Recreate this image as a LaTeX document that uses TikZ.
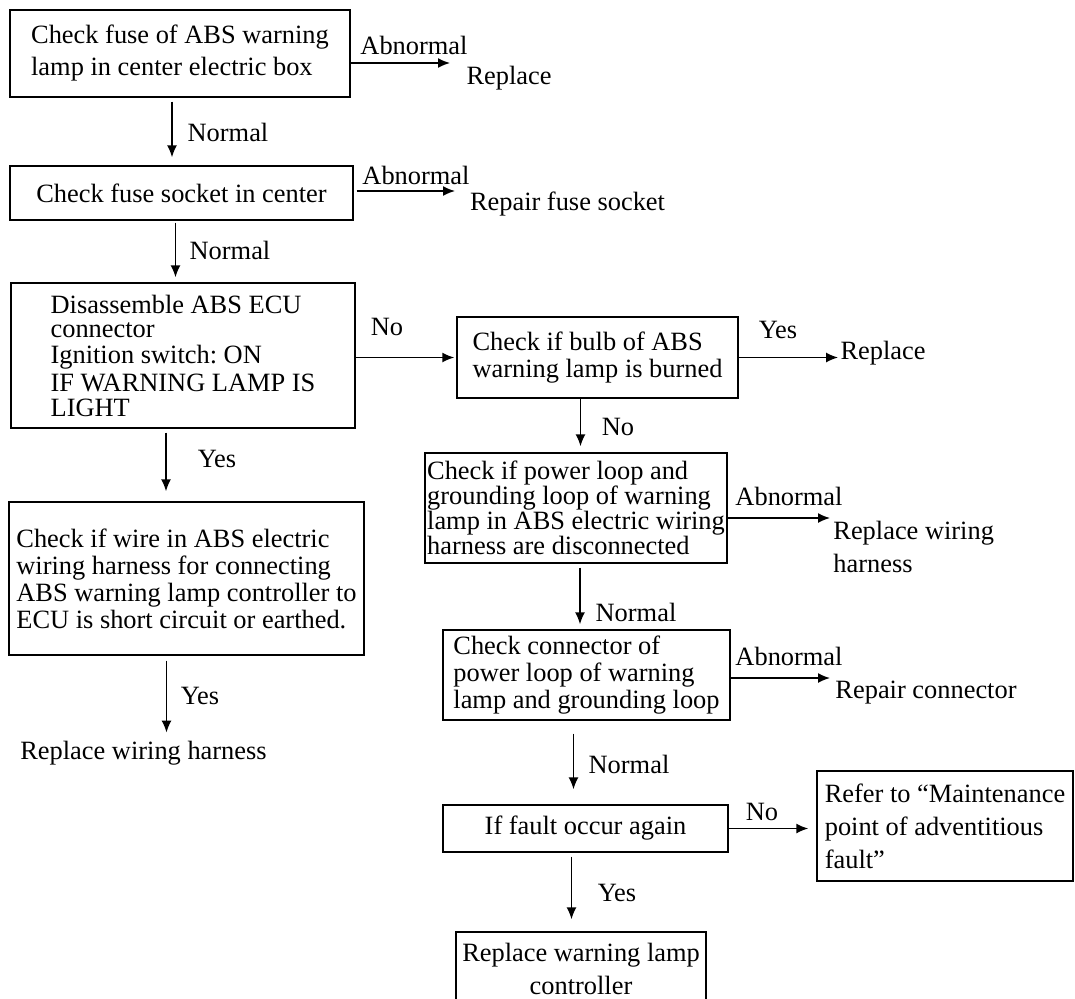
\documentclass[tikz,border=0pt]{standalone}
\usepackage{fontspec}
\setmainfont{Liberation Serif}
\usetikzlibrary{arrows.meta, positioning}

\begin{document}
\begin{tikzpicture}[
    x=0.5pt, y=-0.5pt,
    % Node styles
    check box/.style={
        draw, rectangle, line width=0.7pt, align=left,
        inner sep=1pt, font=\fontsize{13.2}{13.5}\selectfont,
      },
    answer/.style={
        inner sep=0pt, align=left,
        font=\fontsize{13.2}{16.5}\selectfont,
      },
    % Edge/arrow style
    flow/.style={
        draw, line width=0.8pt, -{Latex[length=6pt, width=5pt]},
      },
  ]
  \useasboundingbox (0,0) rectangle (1075,998);

  % --- Main chain on the left ---
  \node[check box, minimum width=170pt, minimum height=43.5pt] (fuse) at (180,53.5)
    {Check fuse of ABS warning\\[2.5pt]lamp in center electric box};
  \node[check box, minimum width=171.5pt, minimum height=27pt] (socket) at (181.5,193)
    {Check fuse socket in center};
  \node[check box, minimum width=172pt, minimum height=72.5pt] (ecu) at (183,355.5)
    {Disassemble ABS ECU\\[-1.5pt]connector\\[-0.5pt]Ignition switch:~ON\\[0.5pt]IF WARNING LAMP IS\\[-1pt]LIGHT};
  \node[check box, minimum width=177.5pt, minimum height=76.5pt] (wire) at (186.5,578.5)
    {Check if wire in ABS electric\\wiring harness for connecting\\ABS warning lamp controller to\\ECU is short circuit or earthed.};

  % --- Chain on the right ---
  \node[check box, minimum width=140.5pt, minimum height=40.5pt] (bulb) at (597.5,357.5)
    {Check if bulb of ABS\\warning lamp is burned};
  \node[check box, minimum width=151pt, minimum height=55pt] (loop) at (576,508)
    {Check if power loop and\\[-1pt]grounding loop of warning\\[-1pt]lamp in ABS electric wiring\\[-1pt]harness are disconnected};
  \node[check box, minimum width=143.5pt, minimum height=45pt] (conn) at (586.5,675)
    {Check connector of\\power loop of warning\\lamp and grounding loop};
  \node[check box, minimum width=142.5pt, minimum height=23.5pt] (again) at (585.5,828.5)
    {If fault occur again};
  \node[check box, minimum width=128pt, minimum height=55pt,
        font=\fontsize{13.2}{16.5}\selectfont] (refer) at (945,826)
    {Refer to “Maintenance\\point of adventitious\\fault”};
  \node[check box, align=center, minimum width=125pt, minimum height=37pt,
        font=\fontsize{13.2}{16.5}\selectfont] (lampctl) at (581,969)
    {Replace warning lamp\\controller};

  % --- Results and branch labels ---
  \node[answer] (abnFuse) at (414,45) {Abnormal};
  \node[answer] (repFuse) at (509,78) {Replace};
  \node[answer] (nrmFuse) at (228,132) {Normal};
  \node[answer] (abnSocket) at (416,175) {Abnormal};
  \node[answer] (repSocket) at (567.5,204) {Repair fuse socket};
  \node[answer] (nrmSocket) at (230,250) {Normal};
  \node[answer] (noEcu) at (387,327) {No};
  \node[answer] (yesEcu) at (217,459) {Yes};
  \node[answer] (yesWire) at (200,696) {Yes};
  \node[answer] (repWire) at (143.5,753) {Replace wiring harness};
  \node[answer] (yesBulb) at (778,330) {Yes};
  \node[answer] (repBulb) at (883,353) {Replace};
  \node[answer] (noBulb) at (618,427) {No};
  \node[answer] (abnLoop) at (789,496) {Abnormal};
  \node[answer, anchor=west] (repLoop) at (833,547) {Replace wiring\\harness};
  \node[answer] (nrmLoop) at (636,612) {Normal};
  \node[answer] (abnConn) at (789,656) {Abnormal};
  \node[answer] (repConn) at (926,693) {Repair connector};
  \node[answer] (nrmConn) at (629,764) {Normal};
  \node[answer] (noAgain) at (762,812) {No};
  \node[answer] (yesAgain) at (617,893) {Yes};

  % free arrow ends
  \coordinate (fuseEnd) at (450,63);
  \coordinate (socketEnd) at (455,191);
  \coordinate (loopEnd) at (830,518);
  \coordinate (connEnd) at (830,678);

  % --- Connectors ---
  \draw[flow, shorten <=2pt, shorten >=4pt] ([xshift=-4pt]fuse.south) -- ([xshift=-4pt]fuse.south |- socket.north);
  \draw[flow, shorten <=1pt, shorten >=2.5pt] ([xshift=-3pt]socket.south) -- ([xshift=-3pt]socket.south |- ecu.north);
  \draw[flow, shorten <=2pt, shorten >=5pt] ([xshift=-8.5pt]ecu.south) -- ([xshift=-8.5pt]ecu.south |- wire.north);
  \draw[flow, shorten <=2.5pt, shorten >=4pt] ([xshift=-10pt]wire.south) -- ([xshift=-10pt]wire.south |- repWire.north);
  \draw[flow, shorten >=3pt] ([xshift=-8.5pt]bulb.south) -- ([xshift=-8.5pt]bulb.south |- loop.north);
  \draw[flow, shorten <=2pt, shorten >=2.5pt] ([xshift=2pt]loop.south) -- ([xshift=2pt]loop.south |- conn.north);
  \draw[flow, shorten <=6.5pt, shorten >=7.5pt] ([xshift=-6.5pt]conn.south) -- ([xshift=-6.5pt]conn.south |- again.north);
  \draw[flow, shorten <=2pt, shorten >=6pt] ([xshift=-7pt]again.south) -- ([xshift=-7pt]again.south |- lampctl.north);

  \draw[flow] (fuse.east |- fuseEnd) -- (fuseEnd);
  \draw[flow, shorten <=1.5pt] (socket.east |- socketEnd) -- (socketEnd);
  \draw[flow, shorten >=1pt] (ecu.east |- bulb.west) -- (bulb.west);
  \draw[flow, shorten >=1pt] (bulb.east) -- (bulb.east -| repBulb.west);
  \draw[flow] (loop.east |- loopEnd) -- (loopEnd);
  \draw[flow] (conn.east |- connEnd) -- (connEnd);
  \draw[flow, shorten >=4pt] (again.east) -- (again.east -| refer.west);

\end{tikzpicture}
\end{document}
